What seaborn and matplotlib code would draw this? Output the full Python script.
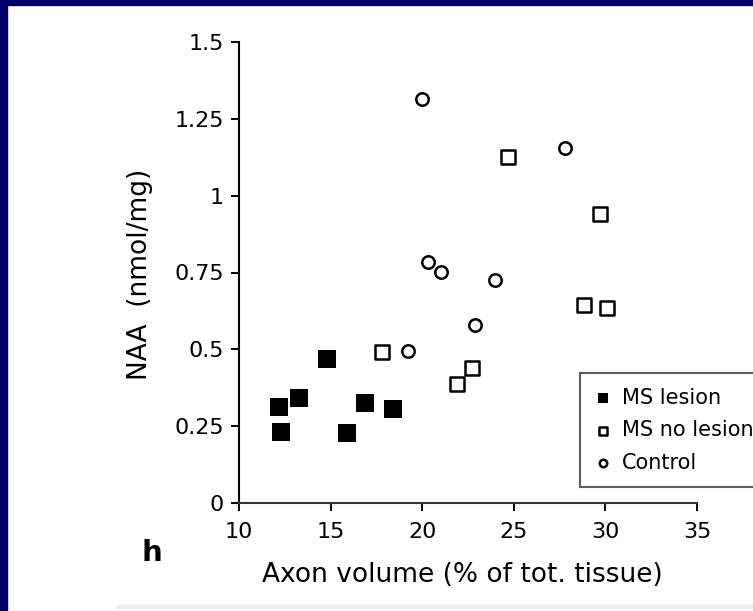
import matplotlib
matplotlib.use("Agg")
import pandas as pd
import seaborn as sns
import matplotlib.pyplot as plt
from matplotlib.patches import Rectangle

# NAA vs axon volume, three groups
ms_lesion_x = [12.2, 12.3, 13.3, 14.8, 15.9, 16.9, 18.4]
ms_lesion_y = [0.312, 0.232, 0.341, 0.468, 0.229, 0.327, 0.305]

ms_nolesion_x = [17.8, 21.9, 22.7, 24.7, 28.85, 29.7, 30.1]
ms_nolesion_y = [0.49, 0.387, 0.439, 1.125, 0.645, 0.94, 0.636]

control_x = [19.2, 20.0, 20.3, 21.0, 22.9, 24.0, 27.8]
control_y = [0.493, 1.313, 0.783, 0.751, 0.58, 0.726, 1.155]

x_ticks = [10, 15, 20, 25, 30, 35]
y_ticks = [0, 0.25, 0.5, 0.75, 1, 1.25, 1.5]
y_tick_labels = ["0", "0.25", "0.5", "0.75", "1", "1.25", "1.5"]

df_lesion = pd.DataFrame({"axon": ms_lesion_x, "naa": ms_lesion_y})
df_nolesion = pd.DataFrame({"axon": ms_nolesion_x, "naa": ms_nolesion_y})
df_control = pd.DataFrame({"axon": control_x, "naa": control_y})

sns.set_style("ticks")
plt.rcParams["font.family"] = ["DejaVu Sans"]
plt.rcParams["text.color"] = "black"
plt.rcParams["xtick.color"] = "black"
plt.rcParams["ytick.color"] = "black"

fig = plt.figure(figsize=(7.53, 6.11), dpi=100, facecolor="white")
ax = fig.add_axes([239 / 753, 1 - 503 / 611, 458 / 753, 461 / 611])

sns.scatterplot(data=df_lesion, x="axon", y="naa", marker="s", color="black",
                s=150, linewidth=0, label="MS lesion", ax=ax, zorder=3)
sns.scatterplot(data=df_nolesion, x="axon", y="naa", marker="s", facecolor="white",
                edgecolor="black", s=90, linewidth=1.8, label="MS no lesion", ax=ax, zorder=3)
sns.scatterplot(data=df_control, x="axon", y="naa", marker="o", facecolor="white",
                edgecolor="black", s=80, linewidth=1.8, label="Control", ax=ax, zorder=3)

ax.set_xlim(10, 35)
ax.set_ylim(0, 1.5)
ax.set_xticks(x_ticks)
ax.set_xticklabels([str(t) for t in x_ticks])
ax.set_yticks(y_ticks)
ax.set_yticklabels(y_tick_labels)
ax.tick_params(axis="both", direction="out", length=6, width=1.4, labelsize=16,
               colors="black", pad=5)
ax.tick_params(axis="x", pad=8)
for side in ["top", "right"]:
    ax.spines[side].set_visible(False)
ax.spines["left"].set_linewidth(1.5)
ax.spines["left"].set_color("black")
ax.spines["bottom"].set_linewidth(1.5)
ax.spines["bottom"].set_color("#333333")
ax.set_facecolor("white")

ax.set_xlabel("")
ax.set_ylabel("")
fig.text(462 / 753, 1 - 575 / 611, "Axon volume (% of tot. tissue)", fontsize=19,
         ha="center", va="center", color="black")
fig.text(140 / 753, 1 - 274 / 611, "NAA  (nmol/mg)", fontsize=19, rotation=90,
         ha="center", va="center", color="black")
fig.text(152 / 753, 1 - 553 / 611, "h", fontsize=21, fontweight="bold",
         ha="center", va="center", color="black")

leg = ax.legend(loc="upper left", bbox_to_anchor=(580 / 753, 1 - 373 / 611),
                bbox_transform=fig.transFigure, fontsize=15, frameon=True,
                fancybox=False, edgecolor="#333333", borderpad=0.7,
                handlelength=0.8, handletextpad=0.5, labelspacing=0.6,
                markerscale=0.6, borderaxespad=0)
leg.get_frame().set_linewidth(1.5)
for txt in leg.get_texts():
    txt.set_color("black")

# navy slide border and the faint grey line at the bottom of the scan
fig.add_artist(Rectangle((0, 0), 7 / 753, 1, transform=fig.transFigure,
                         color="#000066", zorder=0))
fig.add_artist(Rectangle((0, 1 - 5 / 611), 1, 5 / 611, transform=fig.transFigure,
                         color="#000066", zorder=0))
fig.add_artist(Rectangle((117 / 753, 1 - 608 / 611), 1, 3 / 611, transform=fig.transFigure,
                         color="#eeeeee", zorder=0))

fig.savefig("out.png", dpi=100)
